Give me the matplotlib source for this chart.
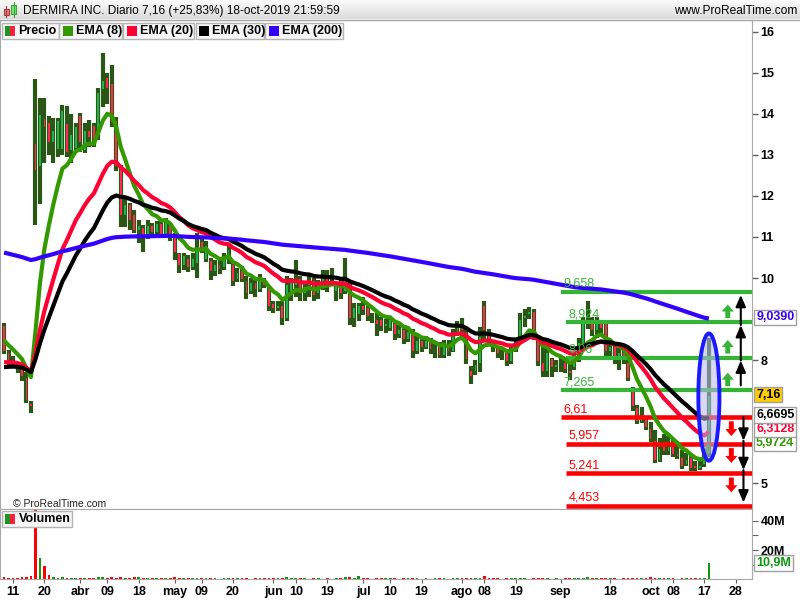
import numpy as np
import matplotlib.pyplot as plt
from matplotlib.patches import Rectangle, Ellipse, FancyArrow

plt.rcParams["font.family"] = ["Liberation Sans", "DejaVu Sans"]

# DERMIRA daily bars, 7-mar-2019 .. 18-oct-2019 (x = trading day number)
opens = [
    8.85, 8.20, 7.95, 7.90, 7.80, 7.60, 6.95, 13.30, 12.70, 13.90,
    13.80, 13.30, 13.12, 13.12, 13.77, 13.10, 13.15, 13.97, 13.10, 13.60,
    13.73, 13.44, 14.58, 14.90, 14.74, 13.85, 12.71, 11.50, 11.80, 11.55,
    11.15, 11.25, 11.00, 11.30, 11.10, 11.35, 11.05, 11.30, 11.05, 10.60,
    10.30, 10.50, 10.25, 10.35, 10.90, 10.45, 10.43, 10.15, 10.35, 10.25,
    10.50, 10.35, 9.95, 10.20, 9.95, 9.65, 9.90, 9.70, 9.95, 9.75,
    9.40, 9.25, 9.35, 9.00, 9.60, 9.80, 10.00, 9.60, 9.80, 9.95,
    9.60, 9.80, 10.00, 9.90, 9.65, 9.95, 9.65, 9.90, 9.00, 9.10,
    9.35, 9.30, 9.05, 9.00, 9.00, 8.80, 8.75, 8.90, 8.60, 8.75,
    8.50, 8.70, 8.20, 8.50, 8.30, 8.50, 8.25, 8.35, 8.10, 8.40,
    8.20, 8.65, 8.85, 8.70, 7.75, 7.70, 7.90, 9.35, 8.70, 8.45,
    8.30, 8.15, 8.20, 7.95, 8.30, 8.45, 9.00, 9.10, 9.20, 8.50,
    7.95, 7.70, 8.05, 7.80, 7.90, 7.95, 7.75, 7.80, 8.00, 8.30,
    8.85, 9.00, 8.70, 8.95, 8.90, 8.20, 8.35, 8.00, 8.20, 7.95,
    7.30, 6.85, 6.50, 6.60, 6.35, 6.05, 5.55, 5.95, 5.75, 5.95,
    5.75, 5.65, 5.45, 5.65, 5.45, 5.35, 5.45, 5.72,
]
highs = [
    8.90, 8.25, 8.10, 7.95, 7.85, 7.70, 7.00, 14.85, 14.38, 14.38,
    13.95, 13.90, 13.90, 14.21, 14.20, 14.00, 13.77, 14.01, 13.77, 13.85,
    13.77, 14.62, 15.47, 15.00, 15.19, 13.93, 12.75, 11.98, 11.82, 11.66,
    11.41, 11.30, 11.41, 11.35, 11.40, 11.40, 11.45, 11.35, 11.09, 10.60,
    10.60, 10.55, 10.60, 11.10, 10.95, 10.90, 10.50, 10.45, 10.45, 10.60,
    10.80, 10.40, 10.25, 10.30, 10.05, 10.00, 9.95, 10.10, 10.00, 9.80,
    9.45, 9.45, 9.45, 10.05, 10.00, 10.45, 10.05, 9.85, 10.05, 10.00,
    9.95, 10.20, 10.20, 10.25, 9.90, 10.00, 10.50, 9.95, 9.40, 9.40,
    9.55, 9.35, 9.15, 9.15, 9.05, 9.00, 9.05, 8.92, 8.85, 8.85,
    8.80, 8.75, 8.60, 8.55, 8.60, 8.55, 8.40, 8.45, 8.50, 8.50,
    8.75, 8.95, 9.02, 8.80, 7.85, 8.00, 8.80, 9.45, 8.75, 8.50,
    8.35, 8.30, 8.25, 8.35, 8.50, 9.15, 9.25, 9.30, 9.25, 8.50,
    8.40, 8.50, 8.05, 8.00, 8.05, 8.00, 7.90, 8.20, 8.55, 9.05,
    9.45, 9.05, 9.05, 8.98, 8.95, 8.45, 8.40, 8.30, 8.25, 8.00,
    7.35, 6.90, 6.85, 6.62, 6.50, 6.30, 6.10, 6.20, 6.15, 6.05,
    5.95, 5.80, 5.75, 5.70, 5.55, 5.55, 5.75, 8.55,
]
lows = [
    8.15, 7.85, 7.80, 7.68, 7.50, 6.95, 6.72, 11.30, 11.80, 12.80,
    13.00, 12.80, 12.95, 13.00, 12.95, 12.80, 13.10, 13.08, 13.04, 13.20,
    13.20, 13.36, 14.17, 14.25, 13.69, 12.60, 11.25, 11.25, 11.17, 11.09,
    10.85, 10.64, 10.95, 11.00, 11.00, 11.00, 11.00, 10.90, 10.45, 10.12,
    10.20, 10.15, 10.20, 10.00, 10.60, 10.40, 9.95, 10.05, 10.10, 10.20,
    10.35, 9.80, 9.90, 9.90, 9.50, 9.60, 9.55, 9.65, 9.75, 9.20,
    9.15, 9.20, 8.85, 8.95, 9.45, 9.55, 9.45, 9.45, 9.55, 9.45,
    9.50, 9.70, 9.65, 9.80, 9.45, 9.50, 9.60, 8.85, 8.80, 8.95,
    9.10, 8.95, 8.90, 8.60, 8.72, 8.65, 8.70, 8.50, 8.55, 8.40,
    8.45, 8.05, 8.15, 8.20, 8.28, 8.15, 8.05, 8.05, 8.05, 8.10,
    8.20, 8.60, 8.55, 7.90, 7.43, 7.65, 7.70, 8.50, 8.35, 8.20,
    8.05, 8.00, 7.85, 7.90, 8.20, 8.40, 8.80, 9.00, 8.50, 7.85,
    7.60, 7.60, 7.60, 7.70, 7.72, 7.68, 7.52, 7.75, 7.95, 8.25,
    8.75, 8.60, 8.55, 8.60, 8.10, 8.10, 7.90, 7.75, 7.90, 7.50,
    6.75, 6.45, 6.48, 6.30, 6.00, 5.50, 5.52, 5.70, 5.70, 5.65,
    5.60, 5.35, 5.42, 5.30, 5.30, 5.32, 5.40, 5.65,
]
closes = [
    8.20, 7.95, 7.90, 7.75, 7.60, 7.00, 6.85, 12.60, 14.00, 13.65,
    13.30, 13.60, 13.85, 14.09, 13.04, 13.50, 13.70, 13.28, 13.60, 13.40,
    13.25, 14.54, 14.82, 14.60, 13.77, 12.71, 11.50, 11.80, 11.40, 11.15,
    11.30, 10.95, 11.30, 11.10, 11.35, 11.05, 11.40, 11.05, 10.60, 10.30,
    10.55, 10.25, 10.50, 10.75, 10.65, 10.80, 10.15, 10.35, 10.20, 10.55,
    10.70, 9.90, 10.15, 9.95, 9.60, 9.90, 9.70, 9.95, 9.80, 9.30,
    9.25, 9.35, 9.00, 9.85, 9.90, 10.00, 9.60, 9.80, 9.95, 9.55,
    9.85, 10.00, 9.85, 9.95, 9.85, 9.60, 10.00, 9.00, 9.30, 9.35,
    9.20, 9.05, 9.00, 8.85, 8.80, 8.90, 9.00, 8.60, 8.75, 8.50,
    8.70, 8.20, 8.50, 8.30, 8.50, 8.25, 8.30, 8.10, 8.40, 8.20,
    8.65, 8.85, 8.70, 8.00, 7.60, 7.90, 8.60, 8.70, 8.45, 8.30,
    8.15, 8.20, 7.95, 8.30, 8.45, 9.00, 9.10, 9.20, 8.60, 7.95,
    7.70, 8.20, 7.80, 7.90, 7.95, 7.75, 7.65, 8.10, 8.45, 8.90,
    9.00, 8.70, 8.95, 8.75, 8.20, 8.35, 8.00, 8.20, 8.00, 7.55,
    6.85, 6.50, 6.60, 6.35, 6.05, 5.55, 5.85, 5.75, 5.90, 5.70,
    5.65, 5.40, 5.60, 5.35, 5.35, 5.45, 5.69, 7.16,
]
# volume in millions of shares
volumes = [
    1.6, 0.9, 0.8, 1.0, 1.5, 1.4, 2.2, 52.0, 14.5, 9.0,
    3.0, 1.8, 1.2, 1.3, 1.2, 0.9, 1.1, 1.0, 0.8, 0.9,
    0.8, 1.7, 1.8, 1.2, 1.3, 1.2, 1.6, 1.1, 1.2, 1.4,
    1.6, 1.2, 1.1, 0.7, 0.8, 0.7, 0.8, 0.9, 1.3, 0.8,
    0.7, 0.8, 0.6, 1.2, 0.7, 0.6, 0.7, 0.6, 0.5, 0.7,
    0.6, 0.8, 0.6, 0.7, 0.6, 0.5, 0.6, 0.7, 0.6, 0.8,
    0.7, 0.6, 0.8, 1.5, 0.7, 0.6, 0.7, 0.6, 0.5, 0.6,
    0.6, 0.5, 0.6, 0.5, 0.6, 0.9, 1.3, 1.4, 0.7, 2.0,
    0.8, 0.7, 0.5, 0.7, 0.6, 0.8, 0.7, 0.6, 0.5, 0.7,
    0.6, 1.1, 0.6, 0.5, 0.6, 0.5, 0.6, 0.7, 0.6, 0.5,
    0.6, 0.7, 0.6, 0.8, 1.0, 0.7, 0.8, 2.2, 0.8, 0.7,
    0.6, 0.5, 0.6, 0.7, 0.6, 0.7, 0.6, 0.5, 0.6, 0.8,
    0.7, 0.6, 0.5, 0.6, 0.5, 0.6, 0.7, 0.8, 0.7, 0.9,
    1.4, 0.8, 0.7, 0.6, 0.8, 0.7, 0.6, 0.5, 0.6, 0.8,
    1.2, 0.9, 0.7, 0.8, 1.5, 1.0, 0.7, 0.6, 0.7, 0.6,
    0.5, 0.6, 0.7, 0.6, 0.7, 1.2, 0.8, 10.9,
]

# moving averages: value on the first bar and last value shown
ema_periods = [8, 20, 30, 200]
ema_first = [8.48, 7.95, 7.83, 10.62]
ema_last = [5.9724, 6.3128, 6.6695, 9.0390]
ema_colors = ["#339900", "#ff0033", "#000000", "#3300ff"]

green_levels = [9.658, 8.924, 8.06, 7.265]
red_levels = [6.61, 5.957, 5.241, 4.453]
green_start = [124, 125.2, 125.2, 124]
red_start = [124, 125.2, 125.2, 125.2]

tick_pos = [2, 9, 17, 23, 30, 38, 44, 51, 60, 65, 72, 80, 86, 93, 102, 107,
            114, 124, 135, 144, 149, 156, 163]
tick_lab = ["11", "20", "abr", "09", "18", "may", "09", "20", "jun", "10", "19",
            "jul", "10", "19", "ago", "08", "19", "sep", "18", "oct", "08", "17", "28"]


def ema(values, period, first):
    k = 2 / (period + 1)
    out = [first]
    for v in values[1:]:
        out.append(out[-1] + k * (v - out[-1]))
    return np.array(out)


o = np.array(opens)
h = np.array(highs)
l = np.array(lows)
c = np.array(closes)
x = np.arange(len(c))
up = c >= o

DARK = "#2b5716"
GREEN_BODY = "#22b14c"
RED_BODY = "#ff2a50"
LVL_GREEN = "#35b535"
LVL_RED = "#ff0000"
FRAME = "#a8a8a8"
XMIN, XMAX = -0.9, 166.6

fig = plt.figure(figsize=(8, 6), dpi=100)
ax = fig.add_axes([0, 1 - 509 / 600, 752 / 800, 489 / 600])
axv = fig.add_axes([0, 1 - 579.3 / 600, 752 / 800, 70.3 / 600])

# candles: thick dark range bar, coloured body inside with a dark rim
ax.vlines(x, l, h, color=DARK, lw=3.0, zorder=2)
ax.bar(x, np.abs(c - o), bottom=np.minimum(o, c), width=0.8, color=DARK, zorder=2.2)
ax.bar(x, np.maximum(np.abs(c - o) - 0.05, 0), bottom=np.minimum(o, c) + 0.025,
       width=0.42, color=np.where(up, GREEN_BODY, RED_BODY), zorder=2.5)

# support / resistance levels
for lv, st in zip(green_levels, green_start):
    ax.hlines(lv, st, XMAX, color=LVL_GREEN, lw=3.0, zorder=3)
    ax.annotate(f"{lv:g}".replace(".", ","), (st, lv), xytext=(2, 1.5),
                textcoords="offset points", color=LVL_GREEN, fontsize=9,
                va="bottom", ha="left", zorder=6)
for lv, st in zip(red_levels, red_start):
    ax.hlines(lv, st, XMAX, color=LVL_RED, lw=3.3, zorder=3)
    ax.annotate(f"{lv:g}".replace(".", ","), (st, lv), xytext=(2, 1.5),
                textcoords="offset points", color=LVL_RED, fontsize=9,
                va="bottom", ha="left", zorder=6)

# moving averages
for per, first, col in zip(ema_periods, ema_first, ema_colors):
    ax.plot(x, ema(closes, per, first), color=col, lw=3.0, zorder=4,
            solid_capstyle="butt")

# ellipse around the last bar
last = len(c) - 1
mid = (h[last] + l[last]) / 2
tall = h[last] - l[last] + 0.2
ax.add_patch(Ellipse((x[last], mid), 4.7, tall, facecolor="#b8b8f0", alpha=0.55,
                     edgecolor="none", zorder=5))
ax.add_patch(Ellipse((x[last], mid), 4.7, tall, facecolor="none",
                     edgecolor="#1a1aff", lw=2.8, zorder=5))

# block arrows between levels
for lv in green_levels[1:]:
    ax.add_patch(FancyArrow(161.2, lv + 0.1, 0, 0.33, width=1.1, head_width=2.7,
                            head_length=0.17, length_includes_head=True,
                            color=LVL_GREEN, lw=0, zorder=5))
for lv in red_levels[:3]:
    ax.add_patch(FancyArrow(162.0, lv - 0.1, 0, -0.36, width=1.1, head_width=2.7,
                            head_length=0.17, length_includes_head=True,
                            color=LVL_RED, lw=0, zorder=5))

# black projection arrows
arrow_kw = dict(arrowstyle="-|>,head_width=0.3,head_length=0.7", color="black",
                lw=1.5, shrinkA=0, shrinkB=0)
for lo, hi in zip(green_levels[1:], green_levels[:-1]):
    start = lo + 0.12 if lo == green_levels[-1] else lo - 0.07
    ax.annotate("", xy=(164.1, hi - 0.07), xytext=(164.1, start),
                arrowprops=arrow_kw, zorder=6)
for hi, lo in zip(red_levels[:-1], red_levels[1:]):
    start = hi if hi == red_levels[0] else hi + 0.08
    ax.annotate("", xy=(164.7, lo + 0.08), xytext=(164.7, start),
                arrowprops=arrow_kw, zorder=6)

ax.set_xlim(XMIN, XMAX)
ax.set_ylim(4.374, 16.285)
ax.set_xticks([])
ax.yaxis.tick_right()
ax.set_yticks([5, 8, 10, 11, 12, 13, 14, 15, 16])
ax.tick_params(axis="y", length=4, width=1, color="#606060", pad=2, labelsize=9)
for t in ax.get_yticklabels():
    t.set_fontweight("bold")
for sp in ax.spines.values():
    sp.set_color(FRAME)

# value tags on the right axis
tag_style = dict(transform=ax.get_yaxis_transform(), ha="left", va="center",
                 fontsize=9, fontweight="bold", clip_on=False, zorder=8)
for val, col in zip(ema_last, ema_colors):
    ax.text(1.0055, val, f"{val:.4f}".replace(".", ","), color=col,
            bbox=dict(boxstyle="square,pad=0.15", fc="white", ec="#a0a0a0", lw=1),
            **tag_style)
ax.text(1.0055, c[last], f"{c[last]:.2f}".replace(".", ","), color="black",
        bbox=dict(boxstyle="square,pad=0.15", fc="#ffcc00", ec="#a0a0a0", lw=1),
        **tag_style)

ax.text(2, 4.5, "© ProRealTime.com", fontsize=7.5, color="#222222", va="center")

# volume
vcol = np.where(up, "#0a9a0a", "#ff0000")
axv.bar(x, volumes, width=0.62, color=vcol)
axv.set_xlim(XMIN, XMAX)
axv.set_ylim(0, 48)
axv.yaxis.tick_right()
axv.set_yticks([10, 20, 30, 40])
axv.set_yticklabels(["", "20M", "", "40M"])
axv.tick_params(axis="y", length=4, color="#606060", pad=2, labelsize=9)
axv.set_xticks(tick_pos)
axv.set_xticklabels(tick_lab)
axv.tick_params(axis="x", length=3, color="#606060", pad=1.5, labelsize=9)
for t in axv.get_xticklabels() + axv.get_yticklabels():
    t.set_fontweight("bold")
for sp in axv.spines.values():
    sp.set_color(FRAME)
axv.text(1.0055, volumes[last], f"{volumes[last]:.1f}M".replace(".", ","),
         transform=axv.get_yaxis_transform(), ha="left", va="center",
         fontsize=9, fontweight="bold", color="#0a9a0a", clip_on=False,
         bbox=dict(boxstyle="square,pad=0.15", fc="white", ec="#a0a0a0", lw=1))

# overlay in pixel coordinates: header bar and legends
ov = fig.add_axes([0, 0, 1, 1], zorder=10)
ov.set_xlim(0, 800)
ov.set_ylim(600, 0)
ov.axis("off")
ov.patch.set_alpha(0)
grad = np.linspace(0.99, 0.86, 20).reshape(-1, 1)
ov.imshow(grad, extent=[0, 800, 19.5, 0], cmap="gray", vmin=0, vmax=1, aspect="auto")
ov.plot([0, 800], [19.5, 19.5], color=FRAME, lw=1)
ov.add_patch(Rectangle((3.5, 8.5), 5, 6, fc="#ff7070", ec="#a04040", lw=0.8))
ov.plot([6, 6], [6, 16.5], color="#a04040", lw=0.8)
ov.add_patch(Rectangle((11, 5), 5, 9, fc="#70ee70", ec="#40a040", lw=0.8))
ov.plot([13.5, 13.5], [2, 17], color="#40a040", lw=0.8)
ov.text(23, 11, "DERMIRA INC. Diario 7,16 (+25,83%) 18-oct-2019 21:59:59",
        fontsize=8.6, va="center", ha="left")
ov.text(797, 11, "www.ProRealTime.com", fontsize=8.6, va="center", ha="right")

legend_items = ["Precio", "EMA (8)", "EMA (20)", "EMA (30)", "EMA (200)"]
legend_boxes = [(1.5, 57), (59, 63), (123, 71), (195.5, 68), (265, 78)]
for name, (bx, bw), col in zip(legend_items, legend_boxes, [None] + ema_colors):
    ov.add_patch(Rectangle((bx, 22.5), bw, 16, fc="#f6f6f6", ec="#b4b4b4", lw=1))
    if col is None:
        ov.add_patch(Rectangle((bx + 3.5, 26), 5, 10, fc="#1e961e", lw=0))
        ov.add_patch(Rectangle((bx + 8.5, 26), 5, 10, fc="#ff2040", lw=0))
    else:
        ov.add_patch(Rectangle((bx + 3.5, 26), 10, 10, fc=col, lw=0))
    ov.text(bx + 17, 31, name, fontsize=9, fontweight="bold", va="center", ha="left")

ov.add_patch(Rectangle((2, 511), 70, 15.5, fc="#f6f6f6", ec="#b4b4b4", lw=1))
ov.add_patch(Rectangle((5, 514), 5, 10, fc="#1e961e", lw=0))
ov.add_patch(Rectangle((10, 514), 5, 10, fc="#ff2040", lw=0))
ov.text(19, 519, "Volumen", fontsize=9, fontweight="bold", va="center", ha="left")

fig.savefig("out.png", dpi=100)
